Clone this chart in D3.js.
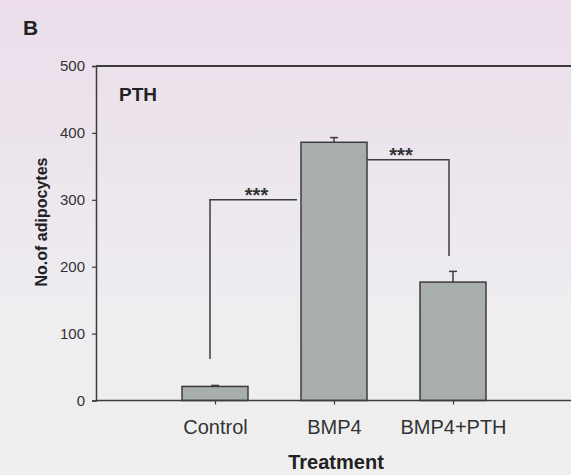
<!DOCTYPE html>
<html><head><meta charset="utf-8">
<script src="https://cdn.jsdelivr.net/npm/d3@7/dist/d3.min.js"></script>
<style>html,body{margin:0;padding:0;overflow:hidden;}svg{display:block;}</style>
</head><body>
<script>
const categories = ["Control", "BMP4", "BMP4+PTH"];
const values = [21, 386, 177];
const errors = [1.5, 7, 16];
const yTicks = [0, 100, 200, 300, 400, 500];
const brackets = [
  {from: 0, to: 1, level: 300, low: 62, label: "***", side: "left"},
  {from: 1, to: 2, level: 360, low: 216, label: "***", side: "right"}
];

const W = 571, H = 475;
const svg = d3.select("body").append("svg").attr("width", W).attr("height", H);
const defs = svg.append("defs");
const grad = defs.append("linearGradient").attr("id","bg").attr("x1",0).attr("y1",0).attr("x2",0).attr("y2",1);
grad.append("stop").attr("offset","0%").attr("stop-color","#ebdeea");
grad.append("stop").attr("offset","30%").attr("stop-color","#ece4ed");
grad.append("stop").attr("offset","65%").attr("stop-color","#eeedf0");
grad.append("stop").attr("offset","100%").attr("stop-color","#efefef");
svg.append("rect").attr("width",W).attr("height",H).attr("fill","url(#bg)");

const x0 = 96, yTop = 66, yBot = 400.5;
const x = d3.scaleLinear().domain([0, 4]).range([x0, 572]);
const y = d3.scaleLinear().domain([0, 500]).range([yBot, yTop]);
const barW = 66;
const ink = "#3c3c3c";
const font = "Liberation Sans, Arial, sans-serif";

// bars
svg.selectAll("rect.bar").data(values).join("rect")
  .attr("class","bar")
  .attr("x",(d,i)=>x(i+1)-barW/2).attr("width",barW)
  .attr("y",d=>y(d)).attr("height",d=>y(0)-y(d))
  .attr("fill","#a8aeab").attr("stroke",ink).attr("stroke-width",1.5);

// error bars
values.forEach((v,i)=>{
  const cx = x(i+1);
  svg.append("line").attr("x1",cx).attr("x2",cx).attr("y1",y(v)).attr("y2",y(v+errors[i])).attr("stroke",ink).attr("stroke-width",1.5);
  svg.append("line").attr("x1",cx-4).attr("x2",cx+4).attr("y1",y(v+errors[i])).attr("y2",y(v+errors[i])).attr("stroke",ink).attr("stroke-width",1.5);
});

// axes
const yAxis = d3.axisLeft(y).tickValues(yTicks).tickSize(4).tickPadding(7);
const gy = svg.append("g").attr("transform",`translate(${x0},0)`).call(yAxis);
gy.select(".domain").attr("stroke",ink).attr("stroke-width",1.5);
gy.selectAll(".tick line").attr("stroke",ink).attr("stroke-width",1.2);
gy.selectAll(".tick text").attr("fill","#333").attr("font-family",font).attr("font-size",15);

const xAxis = d3.axisBottom(x).tickValues([1,2,3]).tickFormat(d=>categories[d-1]).tickSize(4).tickPadding(15);
const gx = svg.append("g").attr("transform",`translate(0,${yBot})`).call(xAxis);
gx.select(".domain").remove();
gx.append("line").attr("x1",x0).attr("x2",W).attr("y1",0).attr("y2",0).attr("stroke",ink).attr("stroke-width",1.5);
gx.selectAll(".tick line").attr("stroke",ink).attr("stroke-width",1.2);
gx.selectAll(".tick text").attr("fill","#333").attr("font-family",font).attr("font-size",20);

// top frame line
svg.append("line").attr("x1",x0).attr("x2",W).attr("y1",y(500)).attr("y2",y(500)).attr("stroke",ink).attr("stroke-width",1.8);

// brackets
brackets.forEach(b=>{
  let pts, xs, xe;
  if (b.side==="left") {
    xs = x(b.from+1)-5; xe = x(b.to+1)-barW/2-4;
    pts = [[xs,y(b.low)],[xs,y(b.level)],[xe,y(b.level)]];
  } else {
    xs = x(b.from+1)+barW/2; xe = x(b.to+1)-4;
    pts = [[xs,y(b.level)],[xe,y(b.level)],[xe,y(b.low)]];
  }
  svg.append("text").attr("x",(xs+xe)/2 + (b.side==="left"? 3 : -7)).attr("y",y(b.level)+2).attr("text-anchor","middle")
    .attr("font-family",font).attr("font-weight","bold").attr("font-size",20).attr("fill","#333").text(b.label);
  svg.append("path").attr("d",d3.line()(pts)).attr("fill","none").attr("stroke",ink).attr("stroke-width",1.5);
});

// texts
svg.append("text").attr("x",23).attr("y",35).attr("font-family",font).attr("font-weight","bold").attr("font-size",21).attr("fill","#222").text("B");
svg.append("text").attr("x",119).attr("y",100.5).attr("font-family",font).attr("font-weight","bold").attr("font-size",19).attr("fill","#222").text("PTH");
svg.append("text").attr("transform",`translate(47,222) rotate(-90)`).attr("text-anchor","middle")
  .attr("font-family",font).attr("font-weight","bold").attr("font-size",16).attr("fill","#222").text("No.of adipocytes");
svg.append("text").attr("x",336).attr("y",469).attr("text-anchor","middle")
  .attr("font-family",font).attr("font-weight","bold").attr("font-size",20).attr("fill","#222").text("Treatment");
</script>
</body></html>
